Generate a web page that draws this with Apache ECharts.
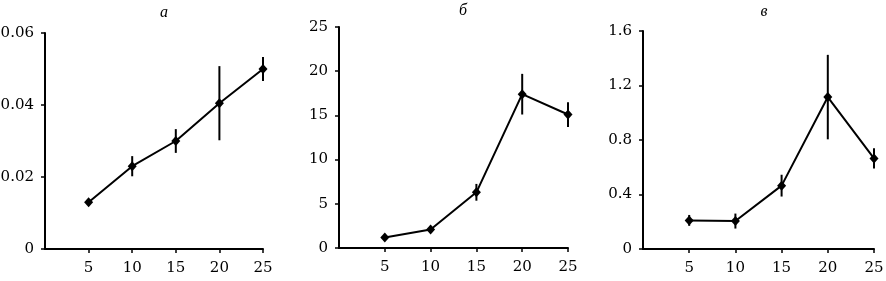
<!DOCTYPE html>
<html><head><meta charset="utf-8">
<script src="https://cdn.jsdelivr.net/npm/echarts@6/dist/echarts.min.js"></script>
<style>html,body{margin:0;padding:0;background:#fff}#c{width:886px;height:281px}</style>
</head><body><div id="c"></div>
<script>
var xs = [5, 10, 15, 20, 25];
var titles = ['а', 'б', 'в'];
var aMean = [0.013, 0.023, 0.030, 0.0405, 0.050];
var aErr  = [0.0008, 0.0028, 0.0033, 0.0103, 0.0033];
var bMean = [1.2, 2.1, 6.3, 17.4, 15.1];
var bErr  = [0.3, 0.4, 0.95, 2.3, 1.4];
var cMean = [0.21, 0.205, 0.465, 1.115, 0.665];
var cErr  = [0.04, 0.055, 0.08, 0.31, 0.075];
var yMax = [0.06, 25, 1.6];
var yInt = [0.02, 5, 0.4];

var grids = [
  {left: 45, top: 33, width: 218, height: 216, outerBoundsMode: 'none', containLabel: false},
  {left: 339, top: 27, width: 229, height: 221, outerBoundsMode: 'none', containLabel: false},
  {left: 643, top: 31, width: 231, height: 218, outerBoundsMode: 'none', containLabel: false}
];
var titlePos = [[159, 0], [458, -2], [759, -1]];
var means = [aMean, bMean, cMean];
var errs = [aErr, bErr, cErr];
var font = 'DejaVu Serif';

var option = {
  animation: false,
  backgroundColor: '#fff',
  title: titles.map(function (t, i) {
    return {text: t, left: titlePos[i][0], top: titlePos[i][1], textAlign: 'center',
      textStyle: {fontFamily: 'Liberation Serif', fontStyle: 'italic', fontWeight: 'normal', fontSize: 16, color: '#000'}};
  }),
  grid: grids,
  xAxis: grids.map(function (g, i) {
    return {type: 'value', gridIndex: i, min: 0, max: 25, interval: 5,
      axisLine: {lineStyle: {color: '#000', width: 2}},
      axisTick: {show: true, length: 4, lineStyle: {color: '#000', width: 1.5}},
      splitLine: {show: false},
      axisLabel: {showMinLabel: false, color: '#000', fontFamily: font, fontSize: 15, margin: 12}};
  }),
  yAxis: grids.map(function (g, i) {
    return {type: 'value', gridIndex: i, min: 0, max: yMax[i], interval: yInt[i],
      axisLine: {show: true, lineStyle: {color: '#000', width: 2}},
      axisTick: {show: true, length: 4, lineStyle: {color: '#000', width: 1.5}},
      splitLine: {show: false},
      axisLabel: {color: '#000', fontFamily: font, fontSize: 15, margin: 11}};
  }),
  series: []
};

means.forEach(function (m, i) {
  option.series.push({
    type: 'custom', xAxisIndex: i, yAxisIndex: i,
    encode: {x: 0, y: [1, 2]},
    data: xs.map(function (x, k) { return [x, m[k] - errs[i][k], m[k] + errs[i][k]]; }),
    renderItem: function (params, api) {
      var p1 = api.coord([api.value(0), api.value(1)]);
      var p2 = api.coord([api.value(0), api.value(2)]);
      return {type: 'line', shape: {x1: p1[0], y1: p1[1], x2: p2[0], y2: p2[1]},
        style: {stroke: '#000', lineWidth: 2}};
    },
    z: 3
  });
  option.series.push({
    type: 'line', xAxisIndex: i, yAxisIndex: i,
    data: xs.map(function (x, k) { return [x, m[k]]; }),
    symbol: 'diamond', symbolSize: [9, 10], showSymbol: true,
    lineStyle: {color: '#000', width: 2},
    itemStyle: {color: '#000'},
    z: 4
  });
});

var chart = echarts.init(document.getElementById('c'), null, {renderer: 'canvas'});
chart.setOption(option);
</script></body></html>
